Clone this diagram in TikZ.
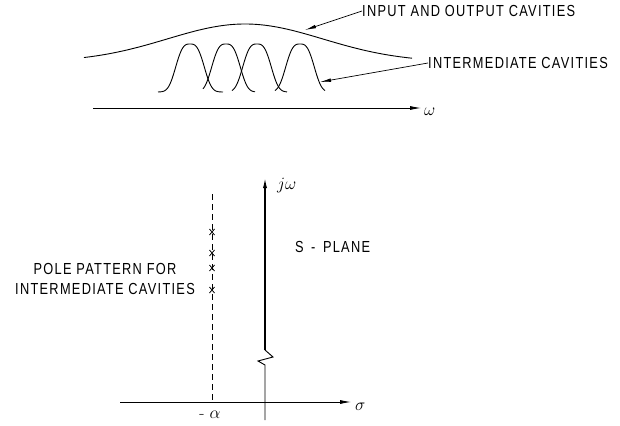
\documentclass[tikz,border=0pt]{standalone}
\usepackage{fontspec}
\newfontfamily\lettering{Liberation Sans}[FakeStretch=0.8, LetterSpace=8]
\usetikzlibrary{arrows.meta}

\tikzset{
  lbl/.style={font=\lettering\fontsize{16}{20}\selectfont, inner sep=0pt},
  mathlbl/.style={font=\fontsize{17}{19}\selectfont, inner sep=0pt},
  curve/.style={line width=0.9pt},
  pointer/.style={line width=0.7pt, -{Latex[length=11pt,width=3.5pt]}},
  axis/.style={line width=0.8pt, -{Latex[length=11pt,width=4pt]}}
}

\begin{document}
\begin{tikzpicture}[x=1pt,y=-1pt]

  \useasboundingbox (0,0) rectangle (620,425);

  % Response curves
  \draw[curve] plot[domain=84:412, samples=90] (\x,{62-38*exp(-((\x-245)/110)^2)});
  \foreach \c/\lo/\hi in {190/158/223, 226/203/255, 257/232/287, 300/275/325}
    \draw[curve] plot[domain=\lo:\hi, samples=70] (\x,{92-48*exp(-(abs(\x-\c)/16.5)^3)});

  % Frequency axis
  \coordinate (wL) at (93,108);
  \coordinate (wR) at (421,108);
  \draw[axis] (wL) -- (wR);
  \node[mathlbl, anchor=west] (w) at (424,112) {$\omega$};

  % Curve labels
  \node[lbl, anchor=west] (io) at (362,11) {INPUT AND OUTPUT CAVITIES};
  \node[lbl, anchor=west] (ic) at (428,63) {INTERMEDIATE CAVITIES};
  \coordinate (ioTip) at (305,30);
  \coordinate (icTip) at (320,82);
  \draw[pointer] (io.west) -- (ioTip);
  \draw[pointer] (ic.west) -- (icTip);

  % S-plane axes
  \coordinate (sL) at (120,402);
  \coordinate (sR) at (351,402);
  \coordinate (jTop) at (265,177);
  \coordinate (zTop) at (265,350);
  \coordinate (zA) at (273,357);
  \coordinate (zB) at (258,361);
  \coordinate (zBot) at (265,365);
  \coordinate (jBot) at (265,420);
  \draw[axis] (sL) -- (sR);
  \draw[axis, line width=1.5pt] (zTop) -- (jTop);
  \draw[curve] (zTop) -- (zA) -- (zB) -- (zBot) -- (jBot);
  \node[mathlbl, anchor=west] (sig) at (355,407) {$\sigma$};
  \node[mathlbl, anchor=west] (jw) at (277,186) {$j\omega$};
  \node[lbl, anchor=west] (sp) at (295,247) {S \,-\, PLANE};

  % Pole pattern
  \coordinate (dTop) at (212,194);
  \coordinate (dBot) at (212,402);
  \draw[line width=0.7pt, dash pattern=on 6pt off 4pt] (dTop) -- (dBot);
  \foreach \p in {232,253,268,290}
    \draw[line width=0.8pt] (212,\p) +(-2.5,-3) -- +(2.5,3) +(-2.5,3) -- +(2.5,-3);
  \node[mathlbl] (alf) at (210,415) {- $\alpha$};
  \node[lbl, align=center] (pp) at (105,279) {POLE PATTERN FOR\\INTERMEDIATE CAVITIES};

\end{tikzpicture}
\end{document}
